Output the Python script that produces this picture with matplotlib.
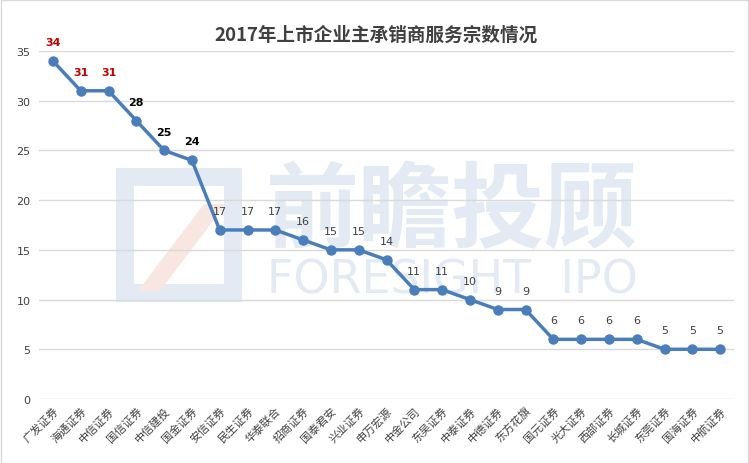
import matplotlib
matplotlib.use("Agg")
import matplotlib.pyplot as plt
from matplotlib.patches import Rectangle, Polygon

plt.rcParams['font.family'] = ['Noto Sans CJK SC', 'DejaVu Sans']

categories = ["广发证券", "海通证券", "中信证券", "国信证券", "中信建投", "国金证券", "安信证券",
              "民生证券", "华泰联合", "招商证券", "国泰君安", "兴业证券", "申万宏源", "中金公司",
              "东吴证券", "中泰证券", "中德证券", "东方花旗", "国元证券", "光大证券", "西部证券",
              "长城证券", "东莞证券", "国海证券", "中航证券"]
values = [34, 31, 31, 28, 25, 24, 17, 17, 17, 16, 15, 15, 14, 11, 11, 10, 9, 9, 6, 6, 6, 6, 5, 5, 5]
yticks = [0, 5, 10, 15, 20, 25, 30, 35]
title = "2017年上市企业主承销商服务宗数情况"

W, H = 749, 464
fig = plt.figure(figsize=(W / 100, H / 100), dpi=100)
fig.patch.set_facecolor('white')

# border
fig.add_artist(Rectangle((0.5 / W, 0.5 / H), 1 - 1.5 / W, 1 - 1.5 / H, transform=fig.transFigure,
                         fill=False, edgecolor='#d9d9d9', lw=1))

# watermark in a background axes
bg = fig.add_axes([0, 0, 1, 1], zorder=0)
bg.set_xlim(0, W)
bg.set_ylim(H, 0)
bg.axis('off')
wm = '#e3eaf3'
bg.add_patch(Rectangle((125, 178), 108, 116, fill=False, edgecolor=wm, lw=13))
bg.add_patch(Polygon([(138, 292), (160, 292), (226, 205), (204, 205)], closed=True,
                     facecolor='#f8e6e0', edgecolor='none'))
bg.text(452, 212, "前瞻投顾", fontsize=67, fontweight='bold', color=wm, ha='center', va='center')
bg.text(452, 281, "FORESIGHT  IPO", fontsize=33, color=wm, ha='center', va='center',
        family='DejaVu Sans')

ax = fig.add_axes([39 / W, 1 - 400 / H, (734 - 39) / W, (400 - 52) / H], zorder=2)
ax.patch.set_alpha(0)
x = list(range(len(categories)))
ax.plot(x, values, color='#4a7ebb', lw=2.5, marker='o', markersize=6.5, clip_on=False, zorder=3)

for i, v in enumerate(values):
    if i < 3:
        col, fw = '#c00000', 'bold'
    elif i < 6:
        col, fw = 'black', 'bold'
    else:
        col, fw = '#404040', 'normal'
    ax.annotate(str(v), (i, v), xytext=(0, 10), textcoords='offset points', ha='center',
                va='bottom', fontsize=8, color=col, fontweight=fw, family='DejaVu Sans')

ax.set_xlim(-0.5, len(categories) - 0.5)
ax.set_ylim(0, 35)
ax.set_yticks(yticks)
ax.set_yticklabels([str(t) for t in yticks], fontsize=8, color='#404040', family='DejaVu Sans')
ax.set_xticks(x)
ax.set_xticklabels(categories, rotation=45, ha='right', rotation_mode='anchor', fontsize=8,
                   color='#404040')
ax.tick_params(axis='both', length=0, pad=6)
ax.tick_params(axis='x', pad=4)
ax.grid(axis='y', color='#d9d9d9', lw=1)
ax.set_axisbelow(True)
for s in ax.spines.values():
    s.set_visible(False)

fig.text(376 / W, 1 - 35 / H, title, fontsize=13.4, fontweight='bold', color='#404040',
         ha='center', va='center')

fig.savefig('out.png', dpi=100)
